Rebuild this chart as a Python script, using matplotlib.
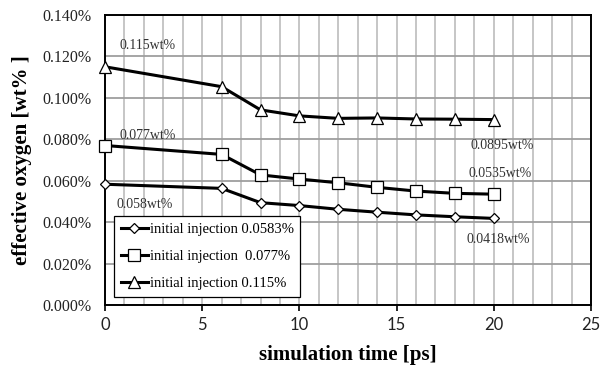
import numpy as np
import matplotlib.pyplot as plt
from matplotlib.ticker import MultipleLocator, FuncFormatter

# Data
time_ps = [0, 6, 8, 10, 12, 14, 16, 18, 20]
inj_0583 = [0.0583, 0.0563, 0.0494, 0.0480, 0.0462, 0.0448, 0.0435, 0.0426, 0.0418]
inj_077 = [0.0770, 0.0727, 0.0628, 0.0608, 0.0590, 0.0568, 0.0550, 0.0539, 0.0535]
inj_115 = [0.1150, 0.1054, 0.0942, 0.0913, 0.0901, 0.0903, 0.0898, 0.0897, 0.0895]
labels = ["initial injection 0.0583%", "initial injection  0.077%", "initial injection 0.115%"]

serif = "Liberation Serif"

fig = plt.figure(figsize=(6.0, 3.67), dpi=100)
ax = fig.add_axes([105 / 600, 1 - 305 / 367, 486 / 600, 290 / 367])

mk = dict(color="black", lw=2.2, markerfacecolor="white", markeredgecolor="black",
          markeredgewidth=0.9, zorder=3, clip_on=False)
ax.plot(time_ps, inj_0583, marker="D", markersize=5.5, label=labels[0], **mk)
ax.plot(time_ps, inj_077, marker="s", markersize=8, label=labels[1], **mk)
ax.plot(time_ps, inj_115, marker="^", markersize=8.5, label=labels[2], **mk)

ax.set_xlim(0, 25)
ax.set_ylim(0, 0.14)
ax.xaxis.set_major_locator(MultipleLocator(5))
ax.xaxis.set_minor_locator(MultipleLocator(1))
ax.yaxis.set_major_locator(MultipleLocator(0.02))
ax.yaxis.set_major_formatter(FuncFormatter(lambda v, p: f"{v:.3f}%"))
ax.grid(which="both", axis="x", color="#c2c2c2", lw=1.3, zorder=0)
ax.grid(which="major", axis="y", color="#9e9e9e", lw=1.3, zorder=0)
ax.set_axisbelow(True)
for s in ax.spines.values():
    s.set_linewidth(1.4)
ax.tick_params(which="both", length=0)
ax.tick_params(axis="y", pad=10)
ax.tick_params(axis="x", which="major", length=4, direction="out", width=1.2, pad=5)

for t in ax.get_yticklabels():
    t.set_fontfamily(serif)
    t.set_fontsize(11.5)
    t.set_color("#222222")
for t in ax.get_xticklabels():
    t.set_fontfamily("Lato")
    t.set_fontsize(12)
    t.set_color("#222222")

ax.set_xlabel("simulation time [ps]", fontfamily=serif, fontweight="bold", fontsize=15, labelpad=8)
ax.set_ylabel("effective oxygen [wt% ]", fontfamily=serif, fontweight="bold", fontsize=15, labelpad=7)

ann = dict(fontfamily=serif, fontsize=10, color="#333333", va="center", ha="left")
ax.text(0.75, 0.1255, "0.115wt%", **ann)
ax.text(0.75, 0.0820, "0.077wt%", **ann)
ax.text(0.6, 0.0483, "0.058wt%", **ann)
ax.text(18.8, 0.0772, "0.0895wt%", **ann)
ax.text(18.7, 0.0637, "0.0535wt%", **ann)
ax.text(18.6, 0.0314, "0.0418wt%", **ann)

leg = ax.legend(loc="lower left", bbox_to_anchor=(0.0185, 0.028), frameon=True, fancybox=False,
                edgecolor="black", framealpha=1, handlelength=1.9, handletextpad=0.1,
                borderpad=0.45, labelspacing=0.95, borderaxespad=0,
                prop={"family": serif, "size": 10.5})
leg.get_frame().set_linewidth(0.9)

fig.savefig("out.png", dpi=100)
